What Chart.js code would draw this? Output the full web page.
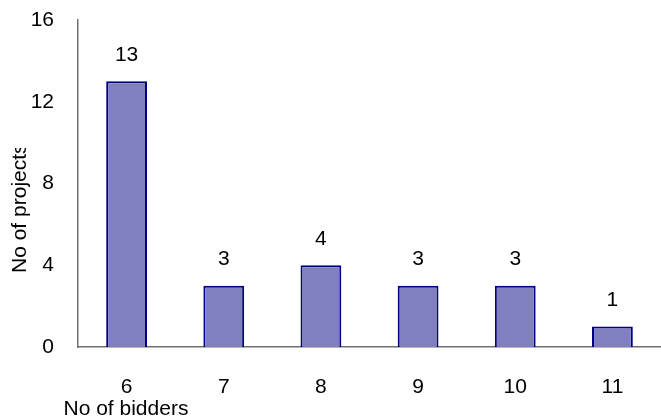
<!DOCTYPE html>
<html>
<head>
<meta charset="utf-8">
<script src="https://cdn.jsdelivr.net/npm/chart.js@4/dist/chart.umd.min.js"></script>
<style>
  html, body { margin: 0; padding: 0; background: #fff; }
  #wrap { width: 661px; height: 418px; position: relative; }
</style>
</head>
<body>
<div id="wrap"><canvas id="c"></canvas></div>
<script>
// Number of bidders per project
const bidders = ['6', '7', '8', '9', '10', '11'];
const projects = [13, 3, 4, 3, 3, 1];
const yTicks = [0, 4, 8, 12, 16];

const FONT = '"Liberation Sans", Arial, sans-serif';
const FONT_SIZE = 21;

// Value labels above each bar
const valueLabels = {
  id: 'valueLabels',
  afterDatasetsDraw(chart) {
    const ctx = chart.ctx;
    const meta = chart.getDatasetMeta(0);
    ctx.save();
    ctx.font = FONT_SIZE + 'px ' + FONT;
    ctx.fillStyle = '#000';
    ctx.textAlign = 'center';
    ctx.textBaseline = 'middle';
    meta.data.forEach((bar, i) => {
      ctx.fillText(String(projects[i]), bar.x, bar.y - 26);
    });
    ctx.restore();
  }
};

// Axis titles
const axisTitles = {
  id: 'axisTitles',
  afterDraw(chart) {
    const ctx = chart.ctx;
    ctx.save();
    ctx.font = FONT_SIZE + 'px ' + FONT;
    ctx.fillStyle = '#000';
    ctx.textBaseline = 'alphabetic';
    ctx.textAlign = 'left';
    ctx.fillText('No of bidders', 63.5, 415);
    // vertical title sits in a narrow box and is cut at its top
    ctx.beginPath();
    ctx.rect(0, 148, 60, 270);
    ctx.clip();
    ctx.translate(26, 273);
    ctx.rotate(-Math.PI / 2);
    ctx.fillText('No of projects', 0, 0);
    ctx.restore();
  }
};

new Chart(document.getElementById('c'), {
  type: 'bar',
  data: {
    labels: bidders,
    datasets: [{
      data: projects,
      backgroundColor: '#8080C0',
      borderColor: '#000080',
      borderWidth: 2,
      borderSkipped: 'bottom',
      categoryPercentage: 1,
      barPercentage: 0.42
    }]
  },
  options: {
    responsive: true,
    maintainAspectRatio: false,
    animation: false,
    events: [],
    layout: { padding: { top: 20, right: 0, left: 0, bottom: 0 } },
    plugins: {
      legend: { display: false },
      tooltip: { enabled: false },
      title: { display: false }
    },
    scales: {
      x: {
        grid: { display: false },
        border: { display: true, color: '#707070', width: 1.5 },
        ticks: {
          color: '#000',
          font: { family: FONT, size: FONT_SIZE },
          padding: 20,
          maxRotation: 0
        },
        afterFit(scale) {
          scale.height = 71;
          scale.paddingLeft = 0;
          scale.paddingRight = 0;
        }
      },
      y: {
        min: 0,
        max: 16,
        grid: { display: false },
        border: { display: true, color: '#707070', width: 1.5 },
        afterBuildTicks(scale) { scale.ticks = yTicks.map(v => ({ value: v })); },
        ticks: {
          color: '#000',
          font: { family: FONT, size: FONT_SIZE },
          padding: 16
        },
        afterFit(scale) {
          scale.width = 78;
          scale.paddingTop = 0;
          scale.paddingBottom = 0;
        }
      }
    }
  },
  plugins: [valueLabels, axisTitles]
});
</script>
</body>
</html>
